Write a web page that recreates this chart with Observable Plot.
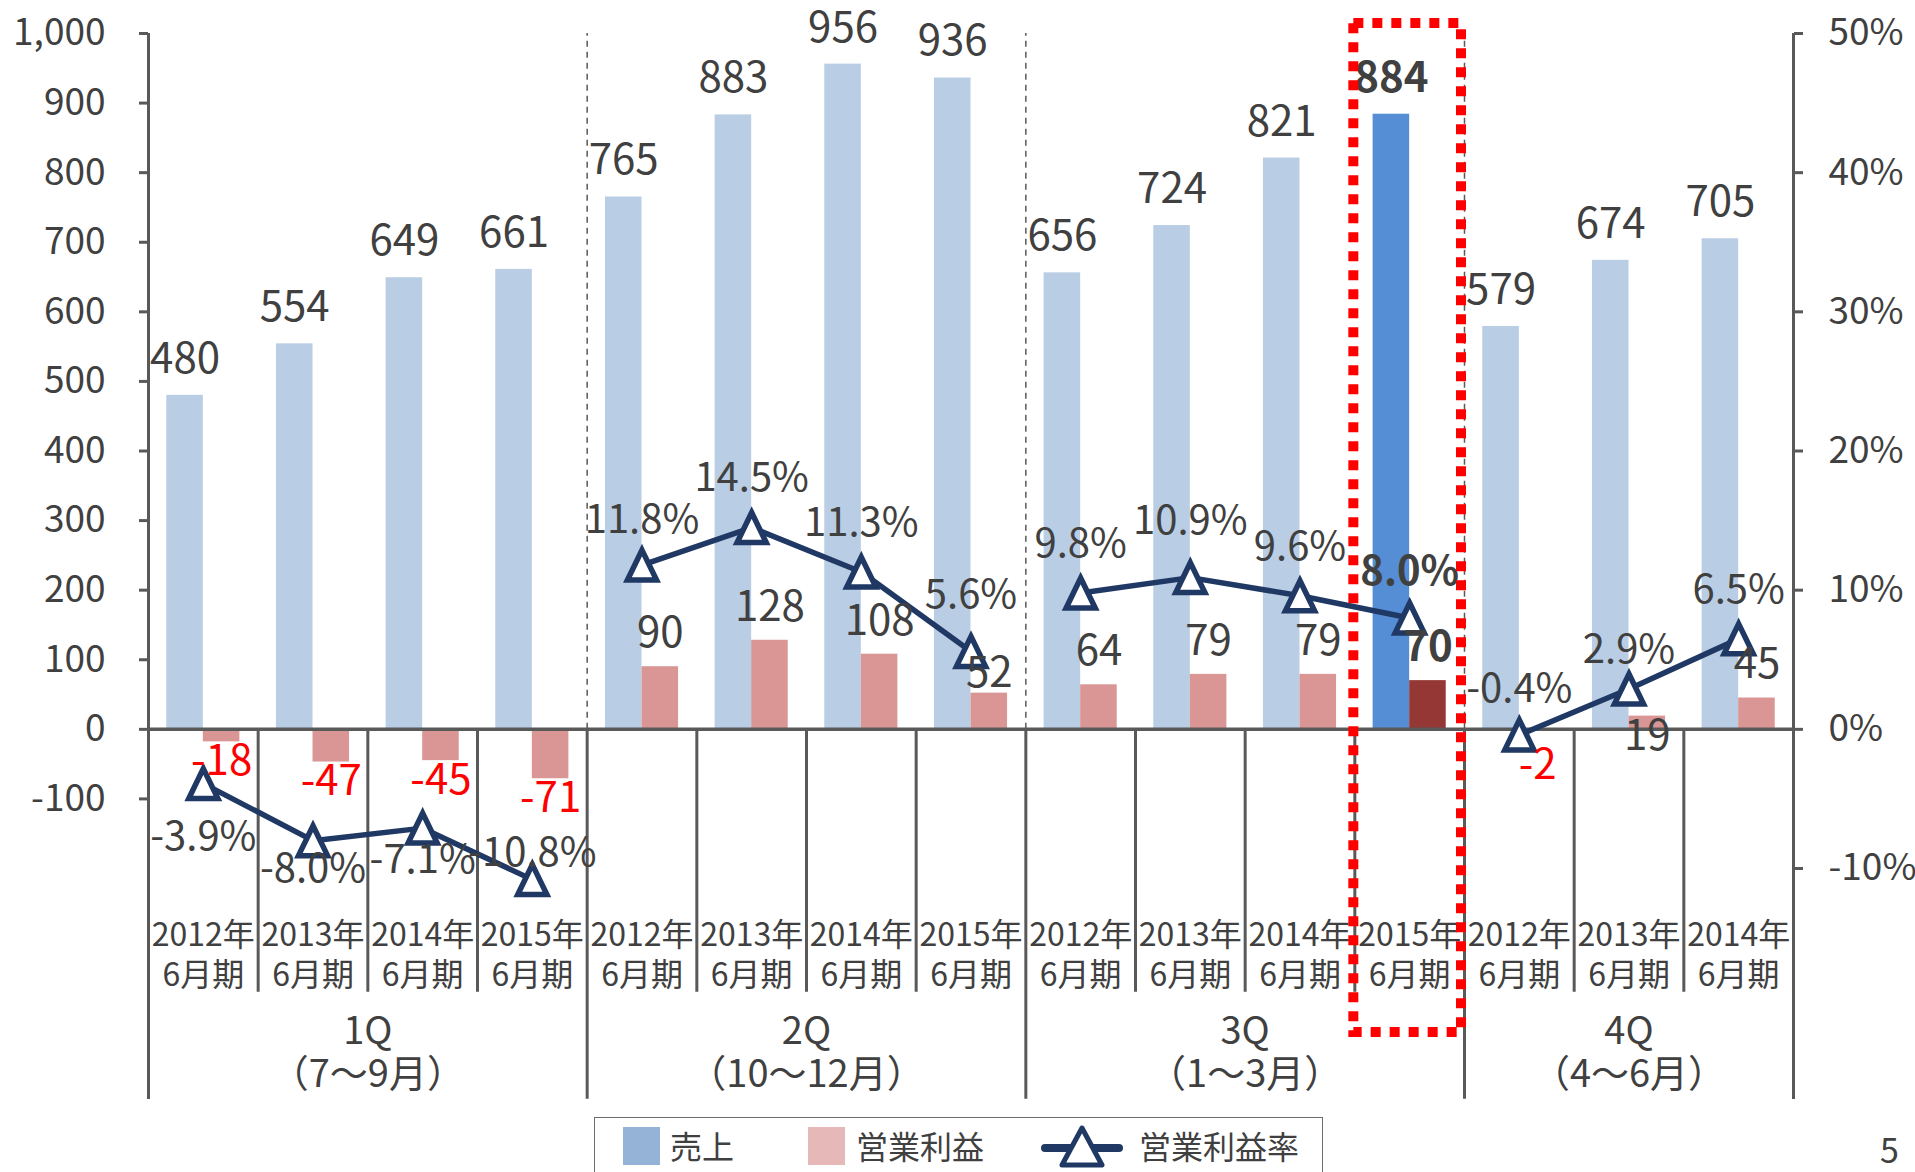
<!DOCTYPE html>
<html lang="ja">
<head>
<meta charset="utf-8">
<script src="https://cdn.jsdelivr.net/npm/d3@7"></script>
<script src="https://cdn.jsdelivr.net/npm/@observablehq/plot@0.6"></script>
<style>
  html, body { margin: 0; padding: 0; background: #fff; }
  body {
    width: 1915px; height: 1172px; position: relative; overflow: hidden;
    font-family: "Noto Sans CJK JP", "Noto Sans", sans-serif; color: #404040;
  }
  #chart { position: absolute; left: 0; top: 0; }
  .legend {
    position: absolute; left: 594px; top: 1117px; width: 729px; height: 70px;
    border: 1.5px solid #6e6e6e; box-sizing: border-box; background: #fff;
  }
  .legend .swatch { position: absolute; top: 9px; width: 37px; height: 38px; }
  .legend .label {
    position: absolute; top: 5px; font-size: 32px; line-height: 44px; color: #404040;
  }
  .legend svg { position: absolute; top: 6px; }
  .page { position: absolute; left: 1880px; top: 1127px; font-size: 34px; line-height: 44px; color: #404040; }
</style>
</head>
<body>
<div id="chart"></div>
<div class="legend">
  <div class="swatch" style="left:28px;background:#95b3d7"></div>
  <div class="label" style="left:75px">売上</div>
  <div class="swatch" style="left:213px;background:#e6b9b8"></div>
  <div class="label" style="left:261px">営業利益</div>
  <svg style="left:446px" width="82" height="46" viewBox="0 0 82 46">
    <line x1="4" y1="24" x2="78" y2="24" stroke="#203864" stroke-width="8" stroke-linecap="round"/>
    <path d="M41,4 L61,41 L21,41 Z" fill="#fff" stroke="#203864" stroke-width="5" stroke-linejoin="round"/>
  </svg>
  <div class="label" style="left:544px">営業利益率</div>
</div>
<div class="page">5</div>
<script>
// Quarterly results by fiscal year (fiscal year ending June)
const categoryQuarter = ["1Q","1Q","1Q","1Q","2Q","2Q","2Q","2Q","3Q","3Q","3Q","3Q","4Q","4Q","4Q"];
const fiscalYear      = [2012, 2013, 2014, 2015, 2012, 2013, 2014, 2015, 2012, 2013, 2014, 2015, 2012, 2013, 2014];
const sales           = [480, 554, 649, 661, 765, 883, 956, 936, 656, 724, 821, 884, 579, 674, 705];
const operatingProfit = [-18, -47, -45, -71, 90, 128, 108, 52, 64, 79, 79, 70, -2, 19, 45];
const operatingMargin = [-3.9, -8.0, -7.1, -10.8, 11.8, 14.5, 11.3, 5.6, 9.8, 10.9, 9.6, 8.0, -0.4, 2.9, 6.5];

const quarterNames  = ["1Q", "2Q", "3Q", "4Q"];
const quarterMonths = ["7〜9月", "10〜12月", "1〜3月", "4〜6月"];

const leftTicks  = [-100, 0, 100, 200, 300, 400, 500, 600, 700, 800, 900, 1000];
const rightTicks = [-10, 0, 10, 20, 30, 40, 50];

// The latest quarter is emphasised
const focusQuarter = "3Q";
const focusYear = 2015;

// 50% on the right axis lines up with 1,000 on the left axis
const PCT_TO_LEFT = 1000 / 50;
const yTop = d3.max(leftTicks);

const textColor = "#404040";
const axisColor = "#595959";
const navy = "#203864";

const rows = sales.map((s, i) => ({
  i,
  key: `${categoryQuarter[i]}-${fiscalYear[i]}`,
  quarter: categoryQuarter[i],
  year: fiscalYear[i],
  sales: s,
  profit: operatingProfit[i],
  margin: operatingMargin[i],
  focus: categoryQuarter[i] === focusQuarter && fiscalYear[i] === focusYear
}));

const quarterRows = quarterNames.map((name, k) => {
  const members = rows.filter(d => d.quarter === name);
  return {
    name,
    months: quarterMonths[k],
    center: d3.mean(members, d => d.i),
    start: d3.min(members, d => d.i) - 0.5,
    end: d3.max(members, d => d.i) + 0.5
  };
});

const quarterEdges = Array.from(new Set(quarterRows.flatMap(q => [q.start, q.end])));
const outerEdges = [-0.5, rows.length - 0.5];
const dividerEdges = quarterEdges.filter(e => !outerEdges.includes(e));
const innerEdges = rows.slice(1).map(d => d.i - 0.5).filter(e => !quarterEdges.includes(e));

// Hand placement of labels that would otherwise collide with the line
const profitLabelDy = {"2Q-2015": -20, "4Q-2013": 20, "4Q-2012": 35};
const marginLabelDy = {"1Q-2012": 54, "1Q-2013": 29, "1Q-2014": 32, "1Q-2015": -26,
                       "2Q-2012": -45, "2Q-2015": -56, "3Q-2013": -56, "3Q-2015": -46,
                       "4Q-2012": -46, "4Q-2013": -39};

// Upright triangle marker, centred on its bounding box and a little taller than wide
const markerTriangle = {
  draw(context, size) {
    const r = Math.sqrt(size / Math.PI);
    context.moveTo(0, -1.07 * r);
    context.lineTo(1.04 * r, 1.07 * r);
    context.lineTo(-1.04 * r, 1.07 * r);
    context.closePath();
  }
};

// Splits a text layer into one mark per distinct style (dy and fontWeight are constants in Plot)
function styledText(data, styleOf, options) {
  return d3.groups(data, d => JSON.stringify(styleOf(d)))
    .map(([key, group]) => Plot.text(group, {...options, ...JSON.parse(key)}));
}

const chart = Plot.plot({
  width: 1915,
  height: 1112,
  marginLeft: 148,
  marginRight: 122,
  marginTop: 33,
  marginBottom: 13,
  style: {fontFamily: '"Noto Sans CJK JP", "Noto Sans", sans-serif', background: "white", color: textColor, overflow: "visible"},
  x: {type: "linear", domain: [-0.5, rows.length - 0.5], axis: null},
  y: {domain: [-200, yTop], range: [868, 33]},
  color: {type: "identity"},
  marks: [
    // dashed dividers between quarters in the plot area
    Plot.ruleX(dividerEdges, {x: d => d, y1: 0, y2: yTop, stroke: axisColor, strokeWidth: 1.5, strokeDasharray: "6,5"}),

    // sales bars (left half) and operating profit bars (right half)
    Plot.rect(rows, {x1: d => d.i - 1/3, x2: d => d.i, y1: () => 0, y2: "sales",
      fill: d => d.focus ? "#558ed5" : "#b9cde5"}),
    Plot.rect(rows, {x1: d => d.i, x2: d => d.i + 1/3, y1: () => 0, y2: "profit",
      fill: d => d.focus ? "#953735" : "#d99694"}),

    // category axis: baseline, separators hanging below it and outer axis lines
    Plot.ruleX(innerEdges, {x: d => d, y1: 0, y2: 0, insetBottom: -263, stroke: axisColor, strokeWidth: 3}),
    Plot.ruleX(quarterEdges, {x: d => d, y1: 0, y2: 0, insetBottom: -370, stroke: axisColor, strokeWidth: 3}),
    Plot.ruleX(outerEdges, {x: d => d, stroke: axisColor, strokeWidth: 3}),
    Plot.ruleY([0], {stroke: axisColor, strokeWidth: 3.5}),

    Plot.axisY({anchor: "left", ticks: leftTicks, tickFormat: d => d.toLocaleString("en-US"),
      tickSize: 9, tickPadding: 34, fontSize: 37, stroke: axisColor, strokeWidth: 3, fill: textColor, label: null}),
    Plot.axisY({anchor: "right", ticks: rightTicks.map(p => p * PCT_TO_LEFT), tickFormat: d => `${d / PCT_TO_LEFT}%`,
      tickSize: 9, tickPadding: 26, fontSize: 37, stroke: axisColor, strokeWidth: 3, fill: textColor, label: null}),

    // operating margin line, broken between quarters
    Plot.line(rows, {x: "i", y: d => d.margin * PCT_TO_LEFT, z: "quarter", stroke: navy, strokeWidth: 5.5}),
    Plot.dot(rows, {x: "i", y: d => d.margin * PCT_TO_LEFT, symbol: markerTriangle, r: 14,
      fill: "white", stroke: navy, strokeWidth: 5.5}),

    // value labels
    styledText(rows, d => ({fontWeight: d.focus ? "bold" : "normal"}),
      {x: d => d.i - 1/6, y: "sales", text: d => String(d.sales), dy: -36, fontSize: 42, fill: textColor}),
    styledText(rows, d => ({
        fontWeight: d.focus ? "bold" : "normal",
        dy: profitLabelDy[d.key] ?? (d.profit < 0 ? 20 : -33)
      }),
      {x: d => d.i + 1/6, y: "profit", text: d => String(d.profit), fontSize: 42,
       fill: d => d.profit < 0 ? "#ff0000" : textColor}),
    styledText(rows, d => ({
        fontWeight: d.focus ? "bold" : "normal",
        dy: marginLabelDy[d.key] ?? (d.margin < 0 ? 30 : -49)
      }),
      {x: "i", y: d => d.margin * PCT_TO_LEFT, text: d => `${d.margin.toFixed(1)}%`, fontSize: 40, fill: textColor}),

    // category labels under the baseline
    Plot.text(rows, {x: "i", text: d => `${d.year}年\n6月期`, frameAnchor: "bottom", dy: -114,
      lineHeight: 1.22, fontSize: 32, fill: textColor}),
    Plot.text(quarterRows, {x: "center", text: d => `${d.name}\n（${d.months}）`, frameAnchor: "bottom", dy: -13,
      lineHeight: 1.13, fontSize: 38, fill: textColor}),

    // dotted red outline around the latest quarter
    Plot.rect(rows.filter(d => d.focus), {x1: d => d.i - 0.5, x2: d => d.i + 0.5,
      insetTop: -10, insetBottom: 67, insetLeft: -1, insetRight: 3,
      fill: "none", stroke: "#ff0000", strokeWidth: 10, strokeDasharray: "10,9"})
  ]
});

document.getElementById("chart").append(chart);
</script>
</body>
</html>
